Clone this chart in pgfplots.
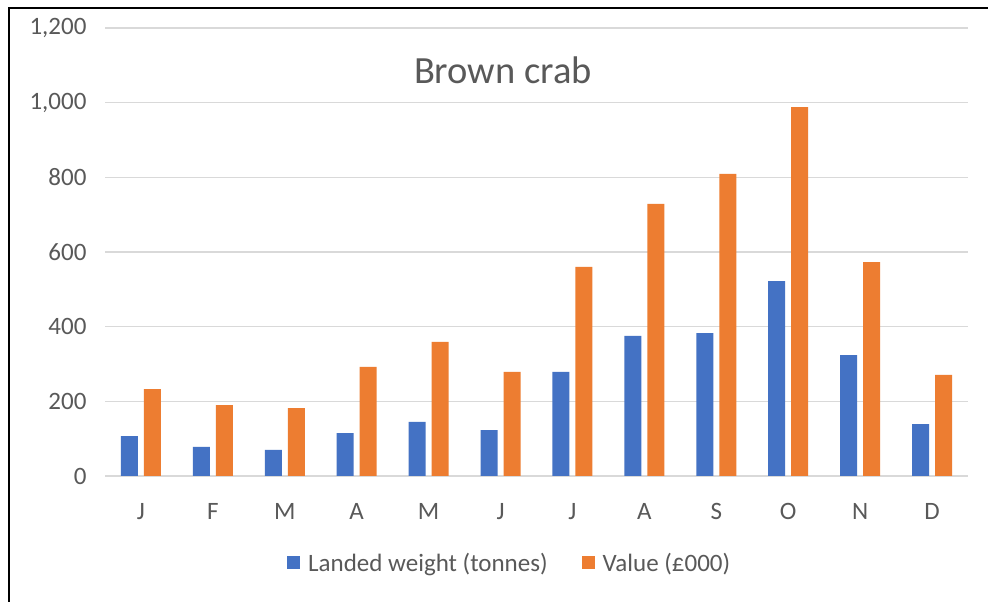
\documentclass[border=0pt]{standalone}
\usepackage{fontspec}
\setmainfont{Carlito}
\usepackage{pgfplots}
\pgfplotsset{compat=1.18}
\definecolor{cblue}{HTML}{4472C4}
\definecolor{corange}{HTML}{ED7D31}
\definecolor{cgrid}{HTML}{D9D9D9}
\definecolor{ctext}{HTML}{595959}
\begin{document}
\begin{tikzpicture}
\path[use as bounding box] (0bp,0bp) rectangle (988bp,602bp);
\fill[white] (0bp,0bp) rectangle (988bp,602bp);
\draw[black, line width=2.5bp] (9bp,0bp) -- (9bp,594bp) -- (988bp,594bp);
\node[text=ctext, font=\fontsize{38.5bp}{42bp}\selectfont] at (503bp,532bp) {Brown crab};
\begin{axis}[
  at={(105bp,126bp)}, anchor=south west,
  scale only axis, width=863bp, height=448bp,
  ybar=6bp, bar width=17bp,
  xmin=-0.5, xmax=11.5, ymin=0, ymax=1200,
  ytick={0,200,...,1200},
  xtick={0,...,11},
  xticklabels={J,F,M,A,M,J,J,A,S,O,N,D},
  axis line style={draw=none},
  major tick length=0,
  ymajorgrids, grid style={cgrid, line width=1.5bp},
  tick label style={font=\fontsize{25bp}{29bp}\selectfont, text=ctext},
  /pgf/number format/assume math mode=true,
  /pgf/number format/1000 sep={,},
  yticklabel style={xshift=-15bp},
  xticklabel style={yshift=-24bp},
  legend style={at={(0.469,-0.194)}, anchor=center, draw=none,
    font=\fontsize{25bp}{29bp}\selectfont, text=ctext,
    /tikz/every odd column/.append style={column sep=6bp},
    /tikz/every even column/.append style={column sep=32bp}},
  legend columns=2,
  legend image code/.code={\fill[#1] (0bp,-6.5bp) rectangle (13bp,6.5bp);},
]
\addplot[fill=cblue, draw=none] coordinates {(0,107) (1,78) (2,70) (3,115) (4,145) (5,123) (6,279) (7,375) (8,383) (9,522) (10,324) (11,139)};
\addplot[fill=corange, draw=none] coordinates {(0,233) (1,190) (2,182) (3,292) (4,359) (5,279) (6,560) (7,729) (8,809) (9,988) (10,573) (11,271)};
\legend{Landed weight (tonnes), Value (£000)}
\end{axis}
\end{tikzpicture}
\end{document}
